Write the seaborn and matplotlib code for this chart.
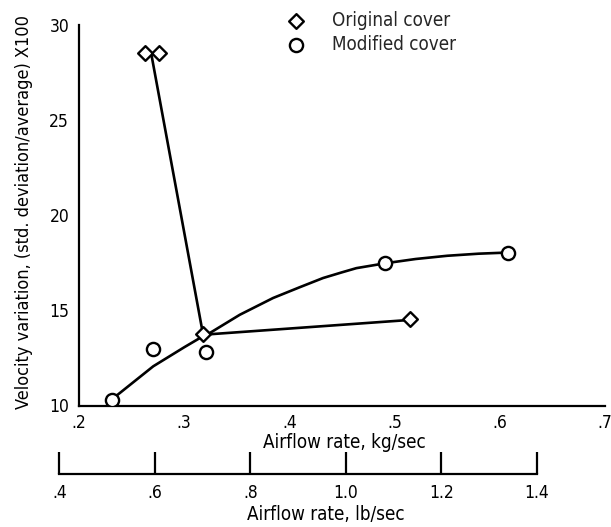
import numpy as np
import pandas as pd
import matplotlib
matplotlib.use("Agg")
import matplotlib.pyplot as plt
import seaborn as sns

# ---- data ----
orig_x = [0.2627, 0.276, 0.318, 0.515]
orig_y = [28.55, 28.55, 13.78, 14.55]

mod_x = [0.231, 0.2706, 0.3206, 0.4913, 0.6077]
mod_y = [10.31, 12.99, 12.82, 17.48, 18.04]

# faired curves as drawn in the reference
orig_fair_x = [0.269, 0.318, 0.515]
orig_fair_y = [28.40, 13.72, 14.50]

mod_fair_x = [0.231, 0.25, 0.2706, 0.30, 0.3175, 0.3244, 0.3529, 0.3845, 0.41, 0.432, 0.45, 0.4637, 0.4916, 0.52, 0.55, 0.58, 0.6077]
mod_fair_y = [10.31, 11.15, 12.06, 13.06, 13.63, 13.81, 14.77, 15.65, 16.22, 16.70, 17.00, 17.22, 17.48, 17.70, 17.87, 17.98, 18.04]

kg_ticks = [0.2, 0.3, 0.4, 0.5, 0.6, 0.7]
kg_tick_labels = [".2", ".3", ".4", ".5", ".6", ".7"]
lb_ticks = [0.4, 0.6, 0.8, 1.0, 1.2, 1.4]
lb_tick_labels = [".4", ".6", ".8", "1.0", "1.2", "1.4"]
y_ticks = [10, 15, 20, 25, 30]
y_tick_labels = ["10", "15", "20", "25", "30"]

series_labels = ["Original cover", "Modified cover"]
KG_TO_LB = 2.20462

sns.set_theme(style="white")
plt.rcParams["font.family"] = ["DejaVu Sans"]
plt.rcParams["font.stretch"] = "condensed"

fig = plt.figure(figsize=(6.11, 5.27), dpi=100)
x0_px, x1_px = 47.4, 605.0
ytop_px, ybot_px = 25.0, 405.5
W, H = 611.0, 527.0
ax = fig.add_axes([x0_px / W, 1 - ybot_px / H, (x1_px - x0_px) / W, (ybot_px - ytop_px) / H])

lw = 1.9
df_of = pd.DataFrame({"x": orig_fair_x, "y": orig_fair_y})
df_mf = pd.DataFrame({"x": mod_fair_x, "y": mod_fair_y})
sns.lineplot(data=df_of, x="x", y="y", sort=False, estimator=None, color="black", lw=lw, ax=ax, zorder=2,
             solid_joinstyle="round")
sns.lineplot(data=df_mf, x="x", y="y", sort=False, estimator=None, color="black", lw=lw, ax=ax, zorder=2,
             solid_joinstyle="round")

sns.scatterplot(x=orig_x, y=orig_y, marker="D", s=56, facecolor="white", edgecolor="black",
                linewidth=1.7, ax=ax, zorder=3, label=series_labels[0])
sns.scatterplot(x=mod_x, y=mod_y, marker="o", s=90, facecolor="white", edgecolor="black",
                linewidth=1.7, ax=ax, zorder=3, label=series_labels[1])

fs = 12.5
fl = 13.5
ax.set_xlim(0.17, 0.70)
ax.set_ylim(10, 30)
for s in ["top", "right"]:
    ax.spines[s].set_visible(False)
ax.spines["left"].set_position(("data", 0.2))
ax.spines["bottom"].set_bounds(0.2, 0.7)
for s in ["left", "bottom"]:
    ax.spines[s].set_linewidth(1.6)
    ax.spines[s].set_color("black")
    ax.spines[s].set_capstyle("projecting")

ax.set_xticks(kg_ticks, kg_tick_labels)
ax.set_yticks(y_ticks, y_tick_labels)
ax.tick_params(axis="both", direction="in", length=18, width=1.6, color="black",
               labelsize=fs, labelcolor="black")
ax.tick_params(axis="x", pad=6)
ax.tick_params(axis="y", pad=7)

ax.set_xlabel("Airflow rate, kg/sec", fontsize=fl, color="black")
ax.xaxis.set_label_coords((344 - x0_px) / (x1_px - x0_px), (ybot_px - 433) / (ybot_px - ytop_px))
ax.set_ylabel("Velocity variation, (std. deviation/average) X100", fontsize=13, color="black")
ax.yaxis.set_label_coords((33 - x0_px) / (x1_px - x0_px), (ybot_px - 212) / (ybot_px - ytop_px))

sec = ax.secondary_xaxis((ybot_px - 474) / (ybot_px - ytop_px),
                         functions=(lambda v: v * KG_TO_LB, lambda v: v / KG_TO_LB))
sec.set_xticks(lb_ticks, lb_tick_labels)
sec.spines["bottom"].set_bounds(0.4, 1.4)
sec.spines["bottom"].set_linewidth(1.6)
sec.spines["bottom"].set_color("black")
sec.tick_params(axis="x", direction="in", length=16, width=1.6, color="black",
                labelsize=fs, labelcolor="black", pad=7)
sec.set_xlabel("Airflow rate, lb/sec", fontsize=fl, color="black", labelpad=2)

leg = ax.legend(loc="upper left", bbox_to_anchor=((287.0 - x0_px) / (x1_px - x0_px), 1 + (ytop_px - 11) / (ybot_px - ytop_px)),
                frameon=False, fontsize=fl, handlelength=1.0, handletextpad=1.4,
                labelspacing=0.25, borderpad=0, borderaxespad=0, scatterpoints=1)

fig.savefig("out.png", dpi=100, facecolor="white")
